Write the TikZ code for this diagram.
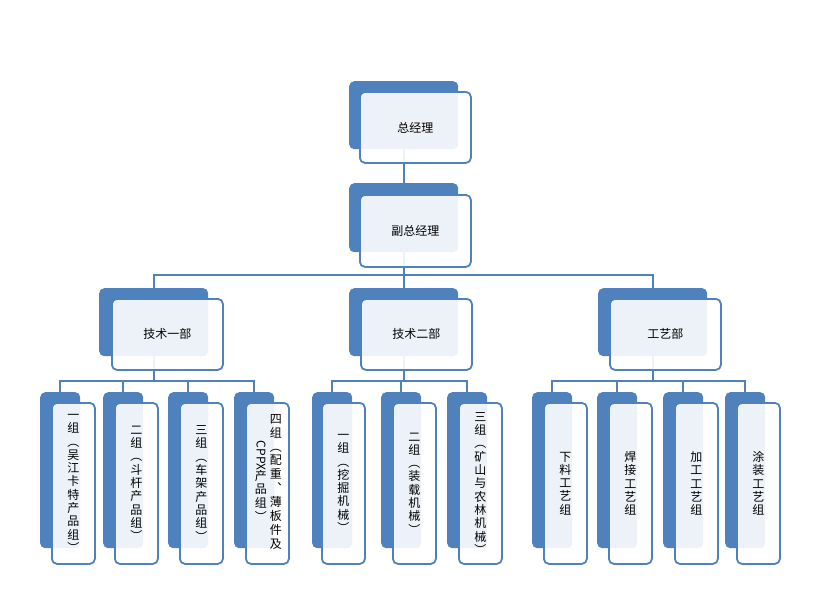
\documentclass[tikz,border=0pt]{standalone}
\usepackage{fontspec}
\usepackage{graphicx}
\setmainfont{Noto Sans CJK SC}
\usetikzlibrary{backgrounds}
\definecolor{dk}{HTML}{4F81BD}
\begin{document}
\begin{tikzpicture}[x=1pt,y=-1pt,
  back/.style={draw=none, fill=dk, rounded corners=5pt, anchor=north west, inner sep=0pt},
  front/.style={draw=dk, line width=1.8pt, fill=white, fill opacity=0.9, text opacity=1,
    rounded corners=5pt, anchor=north west, inner sep=0pt, align=center,
    font=\fontsize{12}{13.3}\selectfont},
  topb/.style={back, minimum width=109pt, minimum height=68pt},
  topf/.style={front, minimum width=111pt, minimum height=71pt},
  lowb/.style={back, minimum width=40pt, minimum height=156pt},
  lowf/.style={front, minimum width=43pt, minimum height=161pt},
  conn/.style={draw=dk, line width=1.8pt}]
\useasboundingbox (0,0) rectangle (814,610);

% level 1 and 2
\node[topb] (ceo-b) at (349,81) {};
\node[topf] (ceo) at (359,91) {总经理};
\node[topb, minimum height=69pt] (vp-b) at (349,183) {};
\node[topf, minimum height=72pt] (vp) at (359,194) {副总经理};

% level 3
\node[topb] (d1-b) at (99,288) {};
\node[topf] (d1) at (111,298) {技术一部};
\node[topb] (d2-b) at (349,288) {};
\node[topf] (d2) at (360,298) {技术二部};
\node[topb] (d3-b) at (598,288) {};
\node[topf] (d3) at (609,298) {工艺部};

% level 4, section 1
\node[lowb] (g11-b) at (40,392) {};
\node[lowf] (g11) at (51,402) {一\\组\\︵\\吴\\江\\卡\\特\\产\\品\\组\\︶};
\node[lowb] (g12-b) at (103,392) {};
\node[lowf] (g12) at (114,402) {二\\组\\︵\\斗\\杆\\产\\品\\组\\︶};
\node[lowb] (g13-b) at (168,392) {};
\node[lowf] (g13) at (179,402) {三\\组\\︵\\车\\架\\产\\品\\组\\︶};
\node[lowb] (g14-b) at (234,392) {};
\node[lowf] (g14) at (245,402) {\hspace{2pt}\begin{tabular}[c]{@{}c@{}}\rotatebox[origin=c]{-90}{CPPX}\\[1pt]产\\品\\组\\︶\end{tabular}\hspace{3pt}\begin{tabular}[c]{@{}c@{}}四\\组\\︵\\配\\重\\︑\\薄\\板\\件\\及\end{tabular}};

% level 4, section 2
\node[lowb] (g21-b) at (312,392) {};
\node[lowf] (g21) at (321,402) {一\\组\\︵\\挖\\掘\\机\\械\\︶};
\node[lowb] (g22-b) at (381,392) {};
\node[lowf] (g22) at (392,402) {二\\组\\︵\\装\\载\\机\\械\\︶};
\node[lowb] (g23-b) at (447,392) {};
\node[lowf] (g23) at (458,402) {三\\组\\︵\\矿\\山\\与\\农\\林\\机\\械\\︶};

% level 4, section 3
\node[lowb] (g31-b) at (532,392) {};
\node[lowf] (g31) at (543,402) {下\\料\\工\\艺\\组};
\node[lowb] (g32-b) at (597,392) {};
\node[lowf] (g32) at (608,402) {焊\\接\\工\\艺\\组};
\node[lowb] (g33-b) at (663,392) {};
\node[lowf] (g33) at (674,402) {加\\工\\工\\艺\\组};
\node[lowb] (g34-b) at (725,392) {};
\node[lowf] (g34) at (736,402) {涂\\装\\工\\艺\\组};

\begin{scope}[on background layer]
\fill[white] (0,0) rectangle (814,610);
\draw[conn] (ceo-b.south) -- (vp-b.north);
\draw[conn] (vp-b.south) -- (d2-b.north);
\draw[conn] (d1-b.north) -- (d1-b.north |- 0,275) -- (d3-b.north |- 0,275) -- (d3-b.north);
% section 1
\draw[conn] (d1-b.south) -- (d1-b.south |- 0,381);
\draw[conn] (g11-b.north) -- (g11-b.north |- 0,381) -- (g14-b.north |- 0,381) -- (g14-b.north);
\draw[conn] (g12-b.north) -- (g12-b.north |- 0,381);
\draw[conn] (g13-b.north) -- (g13-b.north |- 0,381);
% section 2
\draw[conn] (d2-b.south) -- (d2-b.south |- 0,381);
\draw[conn] (g21-b.north) -- (g21-b.north |- 0,381) -- (g23-b.north |- 0,381) -- (g23-b.north);
\draw[conn] (g22-b.north) -- (g22-b.north |- 0,381);
% section 3
\draw[conn] (d3-b.south) -- (d3-b.south |- 0,381);
\draw[conn] (g31-b.north) -- (g31-b.north |- 0,381) -- (g34-b.north |- 0,381) -- (g34-b.north);
\draw[conn] (g32-b.north) -- (g32-b.north |- 0,381);
\draw[conn] (g33-b.north) -- (g33-b.north |- 0,381);
\end{scope}
\end{tikzpicture}
\end{document}
